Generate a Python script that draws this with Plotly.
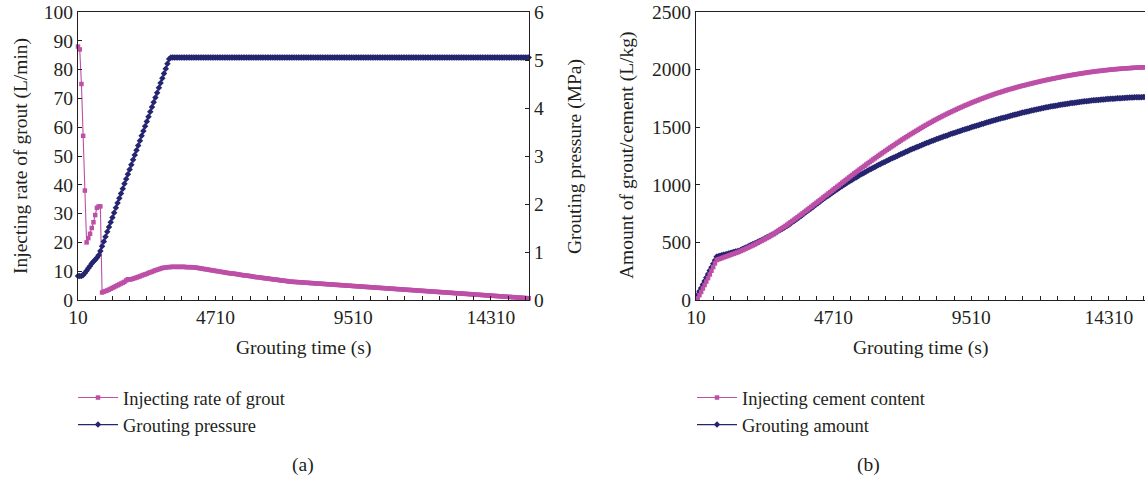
import plotly.graph_objects as go

# ---------------- data (sampled every 60 s) ----------------
time_s = list(range(10, 15731, 60))

# category labels printed under the time axis (equally spaced in the reference)
x_tick_labels = ["10", "4710", "9510", "14310"]
x_tick_pos = [10, 4810, 9610, 14410]

rate_grout = [
    88, 87, 75, 57, 38, 20, 21.5, 23, 25, 27, 29.5, 32, 32.5, 32.5, 2.6,
    2.9, 3.1, 3.3, 3.6, 3.9, 4.2, 4.5, 4.8, 5.1, 5.4, 5.7, 6.0, 6.3, 6.8, 7.2, 7.1, 7.2, 7.4, 7.6, 7.8,
    8.0, 8.2, 8.5, 8.7, 8.9, 9.1, 9.4, 9.6, 9.8, 10.1, 10.3, 10.5, 10.7, 10.9, 11.1, 11.2, 11.3,
    11.4, 11.4, 11.5, 11.5, 11.5, 11.5, 11.5, 11.5, 11.5, 11.5, 11.5, 11.4, 11.4, 11.4, 11.4, 11.3, 11.3,
    11.2, 11.1, 11.0, 10.9, 10.8, 10.7, 10.6, 10.5, 10.4, 10.3, 10.2, 10.1, 10.0, 9.9, 9.8, 9.7, 9.6, 9.5,
    9.4, 9.3, 9.2, 9.2, 9.1, 9.0, 8.9, 8.8, 8.7, 8.6, 8.5, 8.5, 8.4, 8.3, 8.2, 8.1, 8.0, 7.9, 7.9, 7.8,
    7.7, 7.6, 7.5, 7.5, 7.4, 7.3, 7.2, 7.1, 7.1, 7.0, 6.9, 6.8, 6.7, 6.7, 6.6, 6.5,
    6.40, 6.36, 6.32, 6.27, 6.23, 6.19, 6.15, 6.11, 6.07, 6.02, 5.98, 5.94, 5.90, 5.86, 5.82, 5.77,
    5.73, 5.69, 5.65, 5.61, 5.57, 5.52, 5.48, 5.44, 5.40, 5.36, 5.32, 5.27, 5.23, 5.19, 5.15, 5.11,
    5.06, 5.02, 4.98, 4.94, 4.90, 4.86, 4.81, 4.77, 4.73, 4.69, 4.65, 4.61, 4.56, 4.52, 4.48, 4.44,
    4.40, 4.36, 4.31, 4.27, 4.23, 4.19, 4.15, 4.10, 4.06, 4.02, 3.98, 3.94, 3.90, 3.85, 3.81, 3.77,
    3.73, 3.69, 3.65, 3.60, 3.56, 3.52, 3.48, 3.44, 3.40, 3.35, 3.31, 3.27, 3.23, 3.19, 3.15, 3.10,
    3.06, 3.02, 2.98, 2.94, 2.89, 2.85, 2.81, 2.77, 2.73, 2.69, 2.64, 2.60, 2.56, 2.52, 2.48, 2.44,
    2.39, 2.35, 2.31, 2.27, 2.23, 2.19, 2.14, 2.10, 2.06, 2.02, 1.98, 1.93, 1.89, 1.85, 1.81, 1.77,
    1.73, 1.68, 1.64, 1.60, 1.56, 1.52, 1.48, 1.43, 1.39, 1.35, 1.31, 1.27, 1.23, 1.18, 1.14, 1.10,
    1.06, 1.02, 0.98, 0.93, 0.89, 0.85, 0.81, 0.77, 0.72, 0.68, 0.64, 0.60,
]

pressure_mpa = [
    0.50, 0.50, 0.50, 0.52, 0.56, 0.61, 0.66, 0.71, 0.76, 0.80, 0.84, 0.88, 0.93, 1.02,
    1.12, 1.22, 1.32, 1.42, 1.52, 1.62, 1.72, 1.82, 1.92, 2.02, 2.12, 2.22, 2.32, 2.42, 2.52, 2.62,
    2.72, 2.82, 2.92, 3.02, 3.12, 3.22, 3.32, 3.42, 3.52, 3.62, 3.72, 3.82, 3.92, 4.02, 4.12, 4.22,
    4.32, 4.42, 4.52, 4.62, 4.72, 4.82, 4.92, 5.02,
    5.05, 5.05, 5.05, 5.05, 5.05, 5.05, 5.05, 5.05, 5.05, 5.05, 5.05, 5.05, 5.05, 5.05, 5.05, 5.05, 5.05, 5.05, 5.05, 5.05,
    5.05, 5.05, 5.05, 5.05, 5.05, 5.05, 5.05, 5.05, 5.05, 5.05, 5.05, 5.05, 5.05, 5.05, 5.05, 5.05, 5.05, 5.05, 5.05, 5.05,
    5.05, 5.05, 5.05, 5.05, 5.05, 5.05, 5.05, 5.05, 5.05, 5.05, 5.05, 5.05, 5.05, 5.05, 5.05, 5.05, 5.05, 5.05, 5.05, 5.05,
    5.05, 5.05, 5.05, 5.05, 5.05, 5.05, 5.05, 5.05, 5.05, 5.05, 5.05, 5.05, 5.05, 5.05, 5.05, 5.05, 5.05, 5.05, 5.05, 5.05,
    5.05, 5.05, 5.05, 5.05, 5.05, 5.05, 5.05, 5.05, 5.05, 5.05, 5.05, 5.05, 5.05, 5.05, 5.05, 5.05, 5.05, 5.05, 5.05, 5.05,
    5.05, 5.05, 5.05, 5.05, 5.05, 5.05, 5.05, 5.05, 5.05, 5.05, 5.05, 5.05, 5.05, 5.05, 5.05, 5.05, 5.05, 5.05, 5.05, 5.05,
    5.05, 5.05, 5.05, 5.05, 5.05, 5.05, 5.05, 5.05, 5.05, 5.05, 5.05, 5.05, 5.05, 5.05, 5.05, 5.05, 5.05, 5.05, 5.05, 5.05,
    5.05, 5.05, 5.05, 5.05, 5.05, 5.05, 5.05, 5.05, 5.05, 5.05, 5.05, 5.05, 5.05, 5.05, 5.05, 5.05, 5.05, 5.05, 5.05, 5.05,
    5.05, 5.05, 5.05, 5.05, 5.05, 5.05, 5.05, 5.05, 5.05, 5.05, 5.05, 5.05, 5.05, 5.05, 5.05, 5.05, 5.05, 5.05, 5.05, 5.05,
    5.05, 5.05, 5.05, 5.05, 5.05, 5.05, 5.05, 5.05, 5.05, 5.05, 5.05, 5.05, 5.05, 5.05, 5.05, 5.05, 5.05, 5.05, 5.05, 5.05,
    5.05, 5.05, 5.05, 5.05, 5.05, 5.05, 5.05, 5.05, 5.05,
]

cement_content = [
    0, 15, 42, 70, 100, 130, 160, 190, 222, 254, 286, 318, 347,
    353, 358, 364, 369, 375, 380, 386, 391, 397, 402, 408, 413, 419,
    426, 432, 439, 446, 453, 460, 467, 474, 481, 489, 497, 505, 513, 521,
    529, 537, 545, 554, 563, 572, 582, 592, 602, 613, 623, 633, 643, 653,
    664, 675, 686, 697, 708, 719, 730,
    741, 752, 764, 775, 786, 798, 809, 821, 832, 844,
    855, 867, 878, 890, 902, 913, 925, 936, 948, 960, 971, 983, 994, 1006, 1018, 1029, 1041, 1052, 1064, 1076,
    1087, 1099, 1110, 1121, 1132, 1143, 1154, 1165, 1176, 1187, 1198, 1209, 1220, 1230, 1241, 1252, 1262,
    1273, 1283, 1293, 1304, 1314, 1324, 1334, 1344, 1354, 1364, 1374, 1384,
    1394, 1403, 1413, 1422, 1432, 1441, 1450, 1459, 1468, 1477,
    1486, 1495, 1504, 1513, 1521, 1530, 1538, 1546, 1555, 1563, 1571, 1579, 1586, 1594, 1602, 1609, 1617, 1624, 1631,
    1638, 1645, 1652, 1659, 1666, 1672, 1679, 1686, 1692, 1698, 1705, 1711, 1717, 1723, 1729, 1735, 1741, 1747, 1752, 1758,
    1763, 1769, 1774, 1779, 1785, 1790, 1795, 1800, 1804, 1809, 1814, 1819, 1823, 1828, 1832, 1836, 1840, 1845, 1849,
    1853, 1857, 1861, 1864, 1868, 1872, 1876, 1879, 1883, 1887, 1890, 1894, 1897, 1901, 1904, 1907, 1911, 1914, 1917, 1920,
    1923, 1926, 1929, 1932, 1935, 1938, 1941, 1944, 1946, 1949, 1952, 1954, 1957, 1959, 1962, 1964, 1967, 1969, 1971,
    1974, 1976, 1978, 1980, 1982, 1984, 1986, 1988, 1989, 1991, 1993, 1995, 1996, 1998, 1999, 2001, 2002, 2004, 2005, 2006,
    2008, 2009, 2010, 2011, 2012, 2013, 2014, 2015, 2016, 2017, 2018, 2018, 2019, 2020, 2020, 2021,
]

grout_amount = [
    15, 45, 75, 105, 135, 165, 195, 225, 255, 285, 315, 345, 376,
    380, 384, 388, 392, 396, 400, 404, 408, 412, 416, 420, 424, 428,
    435, 442, 449, 456, 463, 470, 477, 484, 491, 498, 505, 512, 519, 526,
    534, 542, 550, 558, 566, 574, 582, 591, 599, 608, 617, 626, 635, 644,
    654, 665, 676, 686, 697, 708, 719, 730, 741, 752, 763, 775, 786, 797, 808, 820, 831, 842, 853,
    865, 876, 887, 898, 908, 919, 929, 940, 950, 960, 970, 980, 990, 1000, 1009, 1019, 1028, 1037, 1047, 1056,
    1064, 1073, 1082, 1091, 1099, 1107, 1115, 1124,
    1132, 1139, 1147, 1155, 1163, 1171, 1178, 1186, 1193, 1201, 1208, 1216, 1223, 1230, 1237, 1244, 1251, 1258, 1265, 1272,
    1279, 1286, 1292, 1299, 1306, 1312, 1318, 1325, 1331, 1337, 1344, 1350, 1356, 1362, 1368, 1374, 1380, 1385, 1391, 1397,
    1402, 1408, 1413, 1419, 1424, 1429, 1435, 1440,
    1445, 1450, 1455, 1460, 1465, 1470, 1475, 1480, 1485, 1489, 1494, 1499, 1504, 1508, 1513, 1518, 1522, 1527, 1531, 1536,
    1540, 1545, 1549, 1554, 1558, 1562, 1566, 1571, 1575, 1579, 1583, 1587, 1591, 1596, 1600, 1604, 1608, 1611, 1615,
    1619, 1623, 1627, 1630, 1634, 1637, 1641, 1644, 1648, 1651, 1654, 1657, 1661, 1664, 1667, 1670, 1673, 1676, 1679, 1681,
    1684, 1687, 1689, 1692, 1695, 1697, 1699, 1702, 1704, 1706, 1709, 1711, 1713, 1715, 1717, 1719, 1721, 1723, 1725,
    1726, 1728, 1730, 1731, 1733, 1734, 1736, 1737, 1739, 1740, 1741, 1743, 1744, 1745, 1746, 1747, 1748, 1749, 1751, 1752,
    1752, 1753, 1754, 1755, 1756, 1757, 1757, 1758, 1759, 1759, 1760, 1761, 1761, 1762, 1762, 1762,
]

# ---------------- styling ----------------
PINK = "#BD4FA7"
NAVY = "#25256F"
AXIS = "#231F20"
FONT = "Liberation Serif"
FS = 19.5
LFS = 18.5
W, H = 1145, 480


def px(x):
    return x / W


def py(y):
    return 1 - y / H


fig = go.Figure()

fig.add_trace(go.Scatter(
    x=time_s[:len(rate_grout)], y=rate_grout, name="Injecting rate of grout",
    mode="lines+markers", line=dict(color=PINK, width=1.1),
    marker=dict(symbol="square", size=4.5, color=PINK),
    xaxis="x", yaxis="y", legend="legend", cliponaxis=False, legendrank=1))
fig.add_trace(go.Scatter(
    x=time_s[:len(pressure_mpa)], y=pressure_mpa, name="Grouting pressure",
    mode="lines+markers", line=dict(color=NAVY, width=1.1),
    marker=dict(symbol="diamond", size=5, color=NAVY),
    xaxis="x", yaxis="y2", legend="legend", cliponaxis=False, legendrank=2))
fig.add_trace(go.Scatter(
    x=time_s[:len(grout_amount)], y=grout_amount, name="Grouting amount",
    mode="lines+markers", line=dict(color=NAVY, width=1.1),
    marker=dict(symbol="diamond", size=5, color=NAVY),
    xaxis="x2", yaxis="y3", legend="legend2", legendrank=2))
fig.add_trace(go.Scatter(
    x=time_s[:len(cement_content)], y=cement_content, name="Injecting cement content",
    mode="lines+markers", line=dict(color=PINK, width=1.1),
    marker=dict(symbol="square", size=4.5, color=PINK),
    xaxis="x2", yaxis="y3", legend="legend2", legendrank=1))

tickfont = dict(family=FONT, size=FS, color=AXIS)
common_x = dict(
    showline=True, linecolor=AXIS, linewidth=1, mirror=True, automargin=False,
    ticks="inside", ticklen=4, tickcolor=AXIS,
    tickmode="array", tickvals=x_tick_pos, ticktext=x_tick_labels,
    minor=dict(ticks="inside", ticklen=4, tickcolor=AXIS, tickmode="linear", tick0=10, dtick=600),
    showgrid=False, zeroline=False, tickfont=tickfont,
)
common_y = dict(
    showline=True, linecolor=AXIS, linewidth=1, ticks="inside", ticklen=4, tickcolor=AXIS,
    showgrid=False, zeroline=False, tickfont=tickfont, automargin=False, tickformat="d",
)

ydom = [py(300), py(12)]
fig.update_layout(
    width=W, height=H, margin=dict(l=0, r=0, t=0, b=0, autoexpand=False),
    paper_bgcolor="white", plot_bgcolor="white",
    font=dict(family=FONT, size=FS, color=AXIS),
    xaxis=dict(domain=[px(78), px(529)], range=[10, 15740], anchor="y", **common_x),
    yaxis=dict(domain=ydom, range=[0, 100], dtick=10, anchor="x", **common_y),
    yaxis2=dict(overlaying="y", side="right", range=[0, 6], dtick=1, anchor="x", **common_y),
    xaxis2=dict(domain=[px(696), 1], range=[10, 15671], anchor="y3", **common_x),
    yaxis3=dict(domain=ydom, range=[0, 2500], dtick=500, anchor="x2", **common_y),
    legend=dict(x=px(73), y=py(379), xanchor="left", yanchor="top",
                bgcolor="rgba(0,0,0,0)", itemwidth=40, tracegroupgap=0,
                font=dict(family=FONT, size=LFS, color=AXIS)),
    legend2=dict(x=px(692), y=py(379), xanchor="left", yanchor="top",
                 bgcolor="rgba(0,0,0,0)", itemwidth=40, tracegroupgap=0,
                 font=dict(family=FONT, size=LFS, color=AXIS)),
    showlegend=True,
)

ann = [
    dict(text="Injecting rate of grout (L/min)", x=px(21), y=py(156), textangle=-90),
    dict(text="Grouting pressure (MPa)", x=px(575), y=py(156), textangle=-90),
    dict(text="Amount of grout/cement (L/kg)", x=px(627), y=py(156), textangle=-90),
    dict(text="Grouting time (s)", x=px(303.5), y=py(348)),
    dict(text="Grouting time (s)", x=px(920.5), y=py(348)),
    dict(text="(a)", x=px(303), y=py(465)),
    dict(text="(b)", x=px(868), y=py(465)),
]
for a in ann:
    fig.add_annotation(xref="paper", yref="paper", showarrow=False,
                       xanchor="center", yanchor="middle",
                       font=dict(family=FONT, size=FS, color=AXIS), **a)

fig.write_html("out.html", config={"displayModeBar": False})
